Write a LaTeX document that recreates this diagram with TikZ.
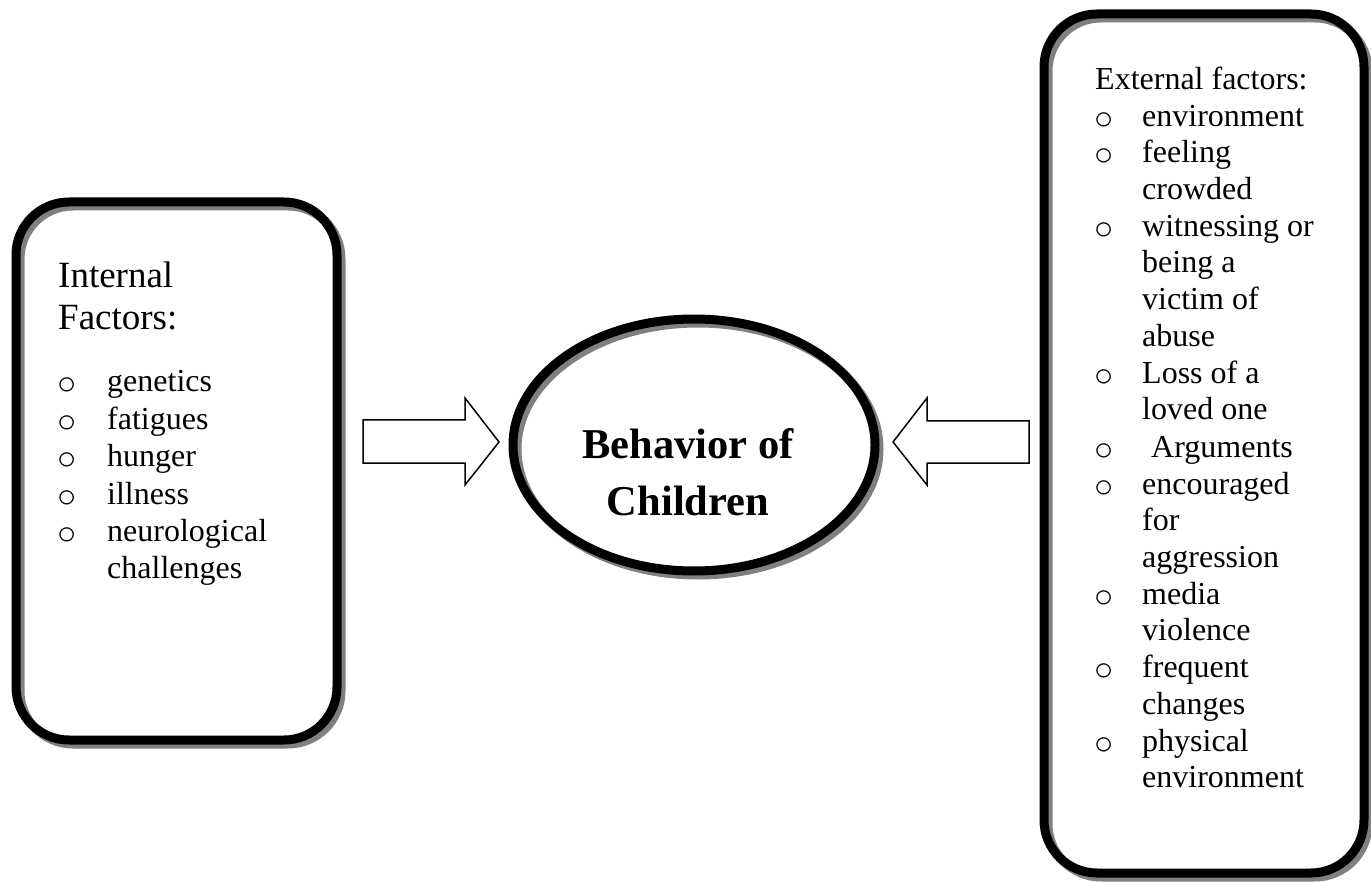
\documentclass[tikz,border=0pt]{standalone}
\usepackage{fontspec}
\setmainfont{Liberation Serif}
\newfontfamily\bulfont{TeX Gyre Cursor}
\usetikzlibrary{shapes.geometric}
\tikzset{
  framebox/.style={draw=black, line width=9pt, rounded corners=53pt, rectangle, inner sep=0pt},
  shadowbox/.style={draw=black!50, line width=9pt, rounded corners=53pt, rectangle, inner sep=0pt},
  oval/.style={draw=black, line width=9pt, ellipse, inner sep=0pt},
  shadowoval/.style={draw=black!50, line width=9pt, ellipse, inner sep=0pt},
  txt/.style={anchor=base west, inner sep=0pt, font=\fontsize{32}{37}\selectfont},
  bigtxt/.style={anchor=base west, inner sep=0pt, font=\fontsize{37}{42}\selectfont},
  bul/.style={anchor=base west, inner sep=0pt, font=\bulfont\fontsize{32}{37}\selectfont},
  title/.style={anchor=base, inner sep=0pt, font=\bfseries\fontsize{42.5}{57}\selectfont},
  blockarrow/.style={draw=black, line width=1.5pt, fill=white, line join=miter}
}
\begin{document}
\begin{tikzpicture}[x=1pt,y=-1pt]
\useasboundingbox (0,0) rectangle (1371,882);
% shadows
\node[shadowbox, minimum width=321pt, minimum height=538pt] (lshadow) at (180.5,475) {};
\node[shadowbox, minimum width=320pt, minimum height=859pt] (rshadow) at (1208,447.5) {};
\node[shadowoval, minimum width=362pt, minimum height=252pt] (cshadow) at (698,449) {};
% main shapes
\node[framebox, minimum width=321pt, minimum height=538pt] (left) at (176.5,471) {};
\node[framebox, minimum width=320pt, minimum height=859pt] (right) at (1204,443.5) {};
\node[oval, minimum width=362pt, minimum height=252pt] (center) at (694,445) {};
% block arrows
\draw[blockarrow] (363,420) -- (465,420) -- (465,398) -- (499,442) -- (465,485) -- (465,463) -- (363,463) -- cycle;
\draw[blockarrow] (1029,421) -- (927,421) -- (927,398) -- (893,442) -- (927,485) -- (927,463) -- (1029,463) -- cycle;
% center text
\node[title] (t1) at (688,458) {Behavior of};
\node[title] (t2) at (688,515) {Children};
% left text
\node[bigtxt] (i1) at (58,288) {Internal};
\node[bigtxt] (i2) at (58,330) {Factors:};
\node[bul] (ib1) at (57,392) {o}; \node[txt] (it1) at (107,392) {genetics};
\node[bul] (ib2) at (57,429) {o}; \node[txt] (it2) at (107,429) {fatigues};
\node[bul] (ib3) at (57,466) {o}; \node[txt] (it3) at (107,466) {hunger};
\node[bul] (ib4) at (57,504) {o}; \node[txt] (it4) at (107,504) {illness};
\node[bul] (ib5) at (57,541) {o}; \node[txt] (it5) at (107,541) {neurological};
\node[txt] (it6) at (107,578) {challenges};
% right text
\node[txt] (e0) at (1095,90) {External factors:};
\node[bul] (eb1) at (1094,127) {o}; \node[txt] (e1) at (1142,127) {environment};
\node[bul] (eb2) at (1094,163) {o}; \node[txt] (e2) at (1142,163) {feeling};
\node[txt] (e3) at (1142,200) {crowded};
\node[bul] (eb3) at (1094,237) {o}; \node[txt] (e4) at (1142,237) {witnessing or};
\node[txt] (e5) at (1142,273) {being a};
\node[txt] (e6) at (1142,310) {victim of};
\node[txt] (e7) at (1142,347) {abuse};
\node[bul] (eb4) at (1094,384) {o}; \node[txt] (e8) at (1142,384) {Loss of a};
\node[txt] (e9) at (1142,420) {loved one};
\node[bul] (eb5) at (1094,457) {o}; \node[txt] (e10) at (1151,457) {Arguments};
\node[bul] (eb6) at (1094,494) {o}; \node[txt] (e11) at (1142,494) {encouraged};
\node[txt] (e12) at (1142,530) {for};
\node[txt] (e13) at (1142,567) {aggression};
\node[bul] (eb7) at (1094,604) {o}; \node[txt] (e14) at (1142,604) {media};
\node[txt] (e15) at (1142,640) {violence};
\node[bul] (eb8) at (1094,677) {o}; \node[txt] (e16) at (1142,677) {frequent};
\node[txt] (e17) at (1142,714) {changes};
\node[bul] (eb9) at (1094,751) {o}; \node[txt] (e18) at (1142,751) {physical};
\node[txt] (e19) at (1142,787) {environment};
\end{tikzpicture}
\end{document}
